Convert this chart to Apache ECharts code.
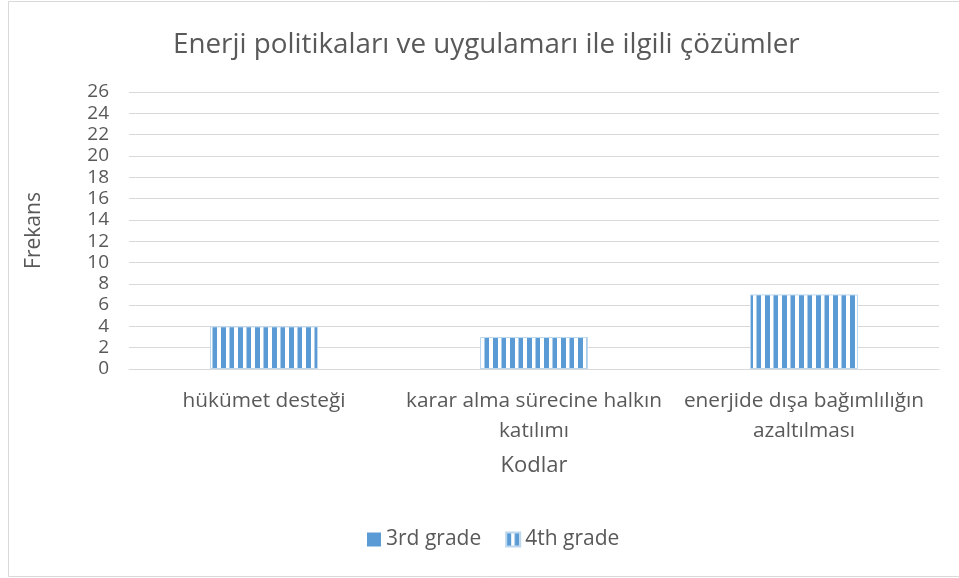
<!DOCTYPE html>
<html>
<head>
<meta charset="utf-8">
<script src="https://cdn.jsdelivr.net/npm/echarts@6/dist/echarts.min.js"></script>
<style>
  html, body { margin: 0; padding: 0; background: #ffffff; }
  #chart { width: 959px; height: 578px; }
</style>
</head>
<body>
<div id="chart"></div>
<script>
// Chart data
const chartTitle = 'Enerji politikaları ve uygulamarı ile ilgili çözümler';
const categories = [
  'hükümet desteği',
  'karar alma sürecine halkın\nkatılımı',
  'enerjide dışa bağımlılığın\nazaltılması'
];
const seriesNames = ['3rd grade', '4th grade'];
const grade3Values = [0, 0, 0];
const grade4Values = [4, 3, 7];
const yTicks = [0, 2, 4, 6, 8, 10, 12, 14, 16, 18, 20, 22, 24, 26];

const BLUE = '#5B9BD5';
const TEXT = '#595959';
const FONT = '"Open Sans", "Noto Sans", sans-serif';

// Vertical stripe fill for the 4th grade bars
function stripePattern() {
  const c = document.createElement('canvas');
  c.width = 17;
  c.height = 4;
  const ctx = c.getContext('2d');
  ctx.fillStyle = '#ffffff';
  ctx.fillRect(0, 0, 17, 4);
  ctx.fillStyle = BLUE;
  ctx.fillRect(0, 0, 5, 4);
  ctx.fillRect(8.5, 0, 4.5, 4);
  return c;
}

const chart = echarts.init(document.getElementById('chart'), null, { renderer: 'canvas' });

chart.setOption({
  backgroundColor: '#ffffff',
  animation: false,
  title: {
    text: chartTitle,
    left: 168,
    top: 26,
    textStyle: { fontFamily: FONT, fontSize: 27.8, fontWeight: 'normal', color: TEXT }
  },
  graphic: [{
    type: 'rect',
    shape: { x: 8.5, y: 1.5, width: 960, height: 575 },
    style: { fill: 'none', stroke: '#D9D9D9', lineWidth: 1 },
    silent: true,
    z: -1
  }],
  legend: {
    bottom: 23,
    left: 362,
    icon: 'rect',
    itemWidth: 14,
    itemHeight: 14,
    itemGap: 24,
    data: seriesNames,
    textStyle: { fontFamily: FONT, fontSize: 21, color: TEXT }
  },
  grid: { left: 129, right: 20, top: 92, bottom: 209 },
  xAxis: {
    type: 'category',
    data: categories,
    name: 'Kodlar',
    nameLocation: 'middle',
    nameGap: 86,
    nameTextStyle: { fontFamily: FONT, fontSize: 22, color: TEXT },
    axisLine: { show: true, lineStyle: { color: '#D9D9D9', width: 1 } },
    axisTick: { show: false },
    axisLabel: {
      interval: 0,
      margin: 17,
      fontFamily: FONT,
      fontSize: 20.8,
      lineHeight: 30,
      color: TEXT
    }
  },
  yAxis: {
    type: 'value',
    min: yTicks[0],
    max: yTicks[yTicks.length - 1],
    interval: yTicks[1] - yTicks[0],
    name: 'Frekans',
    nameLocation: 'middle',
    nameGap: 84,
    nameTextStyle: { fontFamily: FONT, fontSize: 21, color: TEXT },
    axisLine: { show: false },
    axisTick: { show: false },
    axisLabel: { margin: 20, fontFamily: FONT, fontSize: 19, color: TEXT },
    splitLine: { lineStyle: { color: '#D9D9D9', width: 1 } }
  },
  series: [
    {
      name: seriesNames[0],
      type: 'bar',
      data: grade3Values,
      barCategoryGap: '60%',
      barGap: '-100%',
      itemStyle: { color: BLUE }
    },
    {
      name: seriesNames[1],
      type: 'bar',
      data: grade4Values,
      barCategoryGap: '60%',
      barGap: '-100%',
      itemStyle: {
        color: { image: stripePattern(), repeat: 'repeat' },
        borderColor: '#BDD7EE',
        borderWidth: 1
      }
    }
  ]
});
</script>
</body>
</html>
